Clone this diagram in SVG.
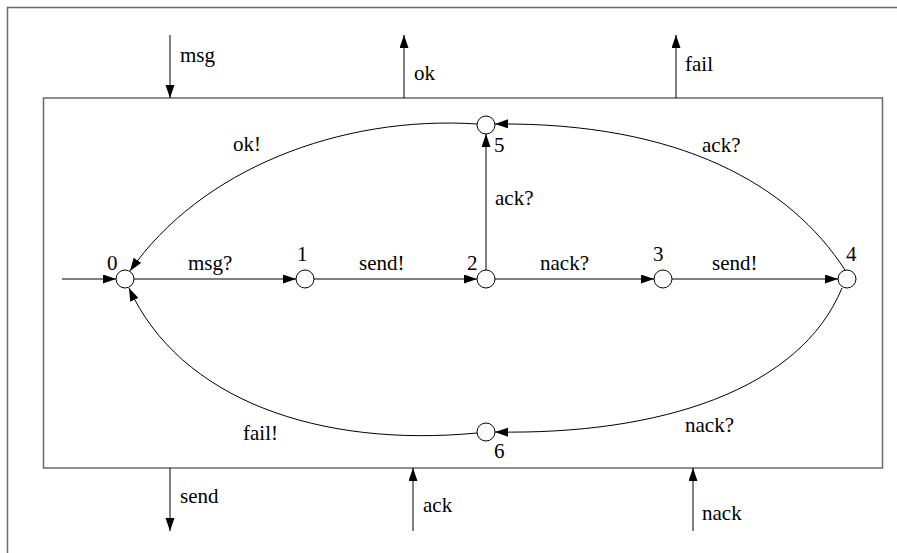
<svg xmlns="http://www.w3.org/2000/svg" width="897" height="553" viewBox="0 0 897 553">
<style>
text{font-family:"Liberation Serif","Times New Roman",serif;font-size:21px;fill:#000}
.n{fill:#fff;stroke:#000;stroke-width:1}
.e{fill:none;stroke:#000;stroke-width:1;marker-end:url(#ah)}
.frame{fill:none;stroke:#6a6a6a;stroke-width:1.5}
</style>
<defs>
<marker id="ah" markerUnits="userSpaceOnUse" markerWidth="14" markerHeight="10" refX="13" refY="4.5" orient="auto">
<path d="M0,0 L13,4.5 L0,9 z" fill="#000"/>
</marker>
</defs>
<rect width="897" height="553" fill="#fff"/>
<path class="frame" d="M7.5,553 V7.5 H897"/>
<rect class="frame" x="43.5" y="98" width="839" height="370"/>

<g id="ports">
<line class="e" x1="170" y1="35" x2="170" y2="98"/>
<text x="180" y="62">msg</text>
<line class="e" x1="404" y1="98" x2="404" y2="35"/>
<text x="414" y="80">ok</text>
<line class="e" x1="676" y1="98" x2="676" y2="35"/>
<text x="685" y="71">fail</text>
<line class="e" x1="170" y1="468" x2="170" y2="531"/>
<text x="180" y="503">send</text>
<line class="e" x1="413" y1="531" x2="413" y2="468"/>
<text x="423" y="512">ack</text>
<line class="e" x1="693" y1="531" x2="693" y2="468"/>
<text x="702" y="520">nack</text>
</g>

<g id="connectors">
<line class="e" x1="62" y1="279" x2="116" y2="279"/>
<line class="e" x1="134" y1="279" x2="296" y2="279"/>
<line class="e" x1="314" y1="279" x2="477" y2="279"/>
<line class="e" x1="495" y1="279" x2="654" y2="279"/>
<line class="e" x1="672" y1="279" x2="838" y2="279"/>
<line class="e" x1="486" y1="270" x2="486" y2="134"/>
<path class="e" d="M845,270 C790,185 680,122 495,124"/>
<path class="e" d="M477,124 C340,115 200,170 130,271"/>
<path class="e" d="M842,288 C800,390 660,435 495,432"/>
<path class="e" d="M477,433 C320,448 180,400 129,288"/>
<text x="188" y="270">msg?</text>
<text x="359" y="270">send!</text>
<text x="540" y="270">nack?</text>
<text x="712" y="270">send!</text>
<text x="495" y="205">ack?</text>
<text x="702" y="152">ack?</text>
<text x="233" y="151">ok!</text>
<text x="243" y="440">fail!</text>
<text x="685" y="432">nack?</text>
</g>

<g id="s0"><circle class="n" cx="125" cy="279" r="9"/><text x="107" y="270">0</text></g>
<g id="s1"><circle class="n" cx="305" cy="279" r="9"/><text x="297" y="261">1</text></g>
<g id="s2"><circle class="n" cx="486" cy="279" r="9"/><text x="467" y="270">2</text></g>
<g id="s3"><circle class="n" cx="663" cy="279" r="9"/><text x="653" y="261">3</text></g>
<g id="s4"><circle class="n" cx="847" cy="279" r="9"/><text x="846" y="261">4</text></g>
<g id="s5"><circle class="n" cx="486" cy="125" r="9"/><text x="494" y="152">5</text></g>
<g id="s6"><circle class="n" cx="486" cy="432" r="9"/><text x="494" y="458">6</text></g>
</svg>
